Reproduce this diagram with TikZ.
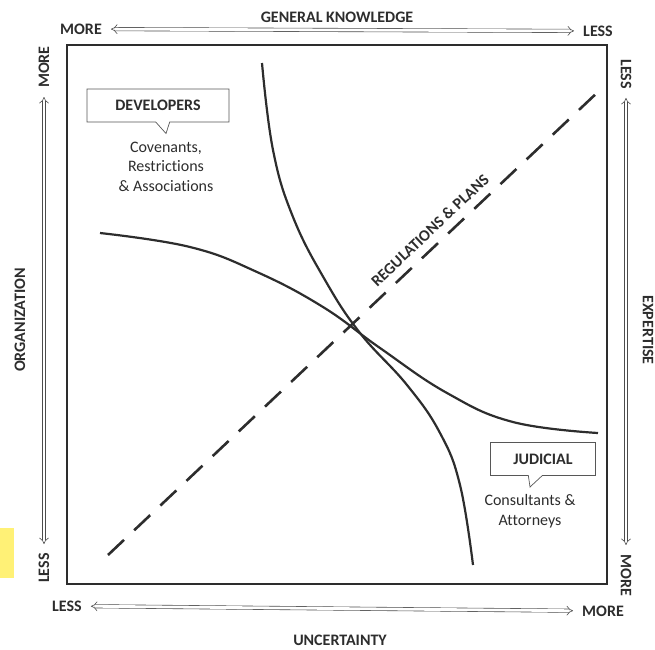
\documentclass[tikz,border=0pt]{standalone}
\usepackage{fontspec}
\setmainfont{Carlito}[Ligatures=NoCommon]
\usetikzlibrary{arrows.meta,shapes.callouts}
\definecolor{marker}{RGB}{255,241,118}
\definecolor{ink}{RGB}{45,45,45}
\newcommand{\chartfont}{\fontsize{16}{19.5}\selectfont}
\tikzset{
    axislabel/.style={font=\chartfont\bfseries, text=ink, inner sep=0pt},
    dblarrow/.style={double=white, double distance=2.8pt, line width=0.6pt, draw=ink!85,
            {Implies}-{Implies}, shorten <=9pt, shorten >=9pt},
    trend/.style={line width=2.2pt, draw=ink},
    actorbox/.style={rectangle callout, draw=ink!80, line width=0.7pt, fill=white,
            font=\chartfont\bfseries, text=ink, minimum height=33pt, inner sep=0pt, callout pointer width=14pt},
    actortext/.style={font=\chartfont, align=center, text=ink, inner sep=0pt},
}

\begin{document}
\begin{tikzpicture}[x=1pt, y=-1pt]
        \useasboundingbox (0, 0) rectangle (655, 649);
        \fill[marker] (0, 528) rectangle (14, 578);
        \draw[line width=1.3pt, ink] (67, 45) rectangle (607, 584);
        %axis labels
        \node[axislabel] (gk) at (337, 17) {GENERAL KNOWLEDGE};
        \node[axislabel] (gkmore) at (81, 29) {MORE};
        \node[axislabel] (gkless) at (598, 31) {LESS};
        \node[axislabel] (unc) at (340, 640) {UNCERTAINTY};
        \node[axislabel] (uncless) at (67, 606) {LESS};
        \node[axislabel] (uncmore) at (603, 611) {MORE};
        \node[axislabel, rotate=90] (org) at (20, 320) {ORGANIZATION};
        \node[axislabel, rotate=90] (orgmore) at (44, 67) {MORE};
        \node[axislabel, rotate=90] (orgless) at (44, 568) {LESS};
        \node[axislabel, rotate=-90] (exp) at (648, 330) {EXPERTISE};
        \node[axislabel, rotate=-90] (expless) at (626, 74) {LESS};
        \node[axislabel, rotate=-90] (expmore) at (626, 575) {MORE};
        %double arrows
        \draw[dblarrow] (gkmore) -- (gkless);
        \draw[dblarrow] (uncless) -- (uncmore);
        \draw[dblarrow] (orgmore) -- (orgless);
        \draw[dblarrow] (expless) -- (expmore);
        %curves
        \draw[trend] plot[smooth, tension=0.7] coordinates {(262, 63) (273, 150) (293, 217) (325, 280) (360, 333) (407, 385) (440, 433) (460, 485) (473, 565)};
        \draw[trend] plot[smooth, tension=0.7] coordinates {(100, 233) (190, 247) (257, 272) (323, 307) (380, 348) (447, 393) (513, 422) (598, 433)};
        %dashed diagonal
        \coordinate (regstart) at (108, 555);
        \coordinate (regend) at (600, 90);
        \draw[line width=2.6pt, ink, dash pattern=on 22pt off 14pt] (regstart) -- (regend)
        node[axislabel, pos=0.675, sloped, above=8pt] (reg) {REGULATIONS \& PLANS};
        %callouts
        \node[actortext, anchor=north] (devnote) at (166, 141.5) {Covenants,\\Restrictions\\\& Associations};
        \node[actorbox, minimum width=142pt, callout absolute pointer={([yshift=8pt]devnote.north)}] (dev) at (158, 105.5) {DEVELOPERS};
        \node[actortext, anchor=north] (judnote) at (530, 494.5) {Consultants \&\\Attorneys};
        \node[actorbox, minimum width=105pt, callout absolute pointer={([yshift=7.5pt]judnote.north)}] (jud) at (543, 459) {JUDICIAL};
    \end{tikzpicture}
\end{document}
